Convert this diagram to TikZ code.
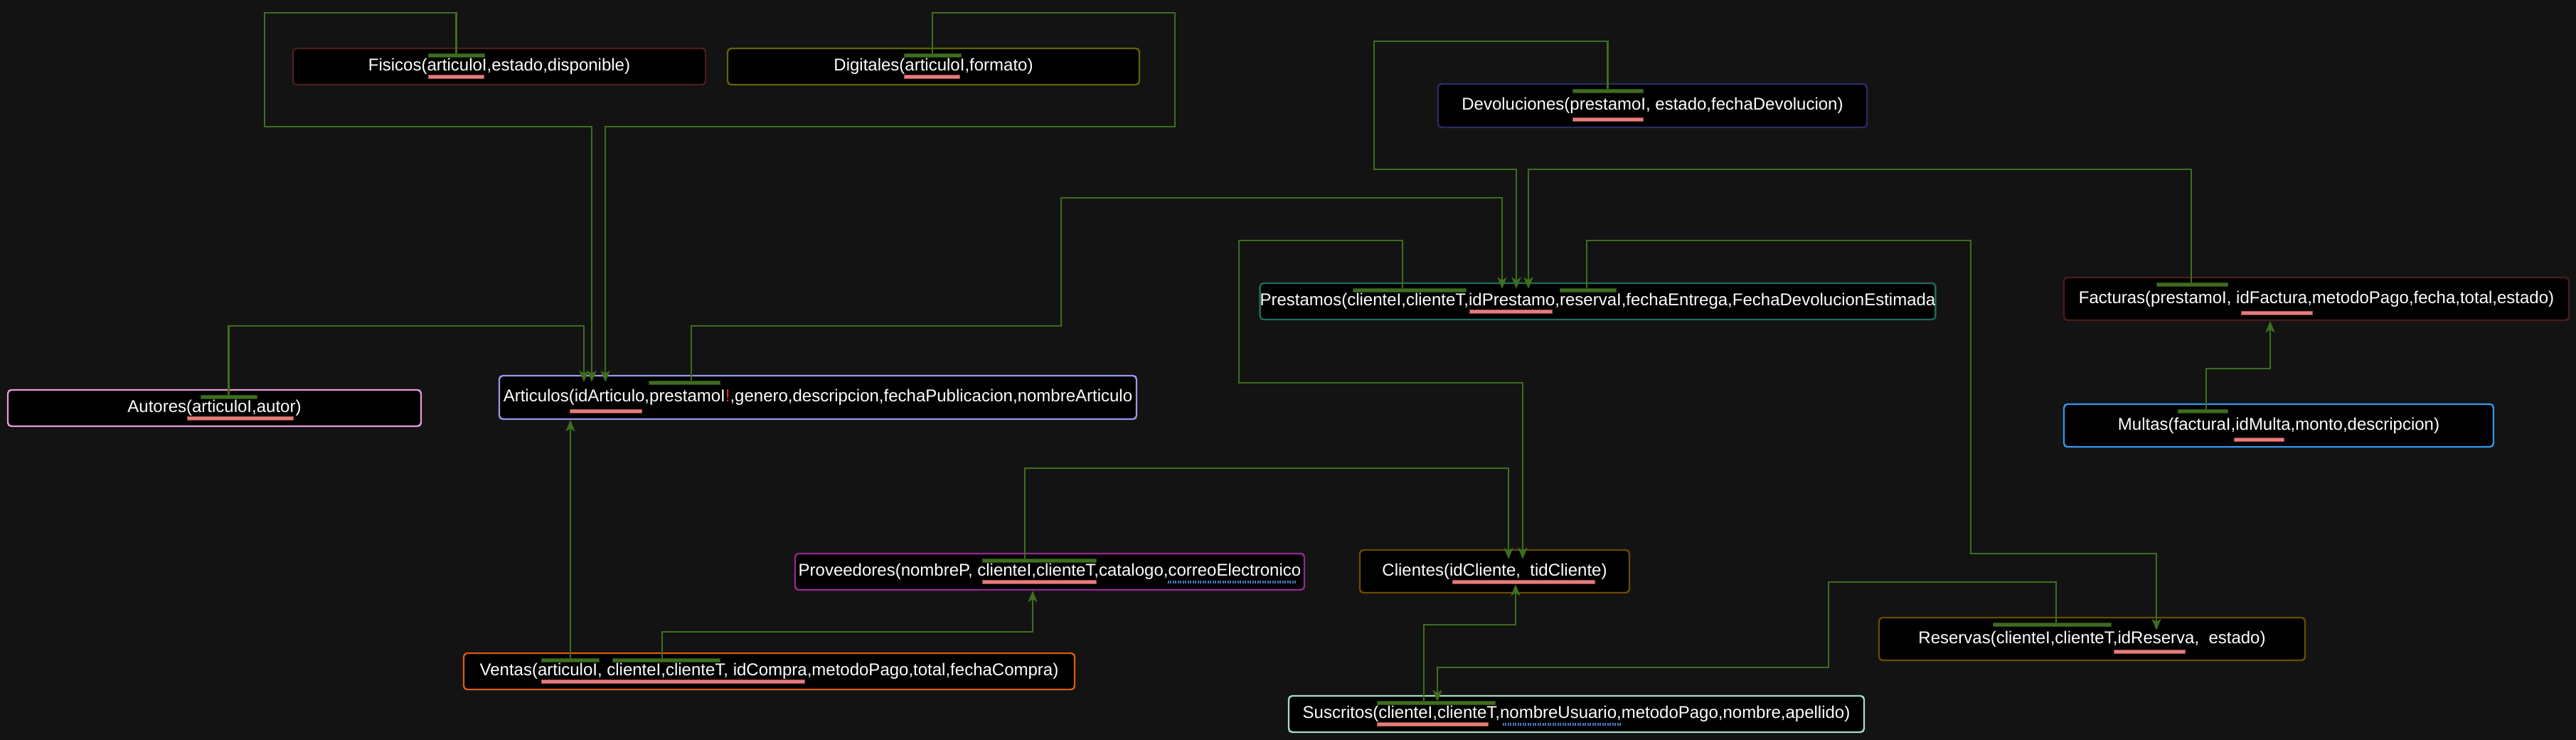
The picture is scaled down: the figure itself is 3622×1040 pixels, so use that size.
\documentclass[tikz,border=0pt]{standalone}
\usepackage{fontspec}
\setmainfont{Liberation Sans}
\usetikzlibrary{arrows.meta,calc}
\definecolor{bgc}{HTML}{131313}
\definecolor{fkc}{HTML}{3E6E1E}
\definecolor{fkbd}{HTML}{2A4A18}
\definecolor{pkc}{HTML}{E57E7E}
\definecolor{pkbd}{HTML}{A04848}
\definecolor{uqc}{HTML}{4A78C0}
\definecolor{errc}{HTML}{D83A2A}
\definecolor{cfis}{HTML}{4E1C1C}
\definecolor{cdig}{HTML}{646400}
\definecolor{cdev}{HTML}{2B2B66}
\definecolor{caut}{HTML}{E89AD8}
\definecolor{cart}{HTML}{9999EE}
\definecolor{cpre}{HTML}{1F6B5E}
\definecolor{cfac}{HTML}{4E1C1C}
\definecolor{cmul}{HTML}{3399EE}
\definecolor{cpro}{HTML}{962896}
\definecolor{ccli}{HTML}{6B4A00}
\definecolor{cven}{HTML}{DC5A0A}
\definecolor{csus}{HTML}{A8DCC8}
\definecolor{cres}{HTML}{6B4A00}
\begin{document}
\begin{tikzpicture}[x=1pt,y=-1pt,
  box/.style={draw=#1, fill=black, rounded corners=5pt, line width=2.4pt, inner sep=0pt, text=white, font=\fontsize{24}{28}\selectfont},
  fk/.style={draw=fkc, line width=2.6pt, -{Stealth[length=16pt,width=13pt,inset=4pt]}},
  fkbar/.style={draw=fkbd, fill=fkc, minimum height=5pt, inner sep=0pt, line width=0.8pt},
  pkline/.style={draw=pkbd, fill=pkc, minimum height=4.5pt, inner sep=0pt, line width=0.8pt},
  uqmark/.style={minimum height=4pt, inner sep=0pt},
  uqline/.style={draw=uqc, line width=4pt, dash pattern=on 2pt off 1.5pt},
]
\useasboundingbox (0,0) rectangle (3622,1040);
\fill[bgc] (0,0) rectangle (3622,1040);

% tables
\node[box=cfis, minimum width=580pt, minimum height=51pt] (fisicos) at (702,93.5) {Fisicos(articuloI,estado,disponible)};
\node[box=cdig, minimum width=579pt, minimum height=51pt] (digitales) at (1312.5,93.5) {Digitales(articuloI,formato)};
\node[box=cdev, minimum width=603pt, minimum height=61pt] (devoluciones) at (2323.5,148.5) {Devoluciones(prestamoI, estado,fechaDevolucion)};
\node[box=caut, minimum width=581pt, minimum height=51pt] (autores) at (301.5,573.5) {Autores(articuloI,autor)};
\node[box=cart, minimum width=896pt, minimum height=61pt] (articulos) at (1150,558.5) {Articulos(idArticulo,prestamoI{\color{errc}!},genero,descripcion,fechaPublicacion,nombreArticulo};
\node[box=cpre, minimum width=949pt, minimum height=51pt] (prestamos) at (2246.5,423.5) {Prestamos(clienteI,clienteT,idPrestamo,reservaI,fechaEntrega,FechaDevolucionEstimada};
\node[box=cfac, minimum width=710pt, minimum height=60pt] (facturas) at (3257,420) {Facturas(prestamoI, idFactura,metodoPago,fecha,total,estado)};
\node[box=cmul, minimum width=604pt, minimum height=60pt] (multas) at (3204,598) {Multas(facturaI,idMulta,monto,descripcion)};
\node[box=cpro, minimum width=716pt, minimum height=51pt] (proveedores) at (1476,803.5) {Proveedores(nombreP, clienteI,clienteT,catalogo,correoElectronico};
\node[box=ccli, minimum width=379pt, minimum height=60pt] (clientes) at (2101.5,803) {Clientes(idCliente,~~tidCliente)};
\node[box=cven, minimum width=859pt, minimum height=51pt] (ventas) at (1081.5,943.5) {Ventas(articuloI, clienteI,clienteT, idCompra,metodoPago,total,fechaCompra)};
\node[box=csus, minimum width=809pt, minimum height=51pt] (suscritos) at (2216.5,1003.5) {Suscritos(clienteI,clienteT,nombreUsuario,metodoPago,nombre,apellido)};
\node[box=cres, minimum width=599pt, minimum height=60pt] (reservas) at (2941.5,898) {Reservas(clienteI,clienteT,idReserva,~~estado)};

% foreign-key bars
\node[fkbar, minimum width=79pt] (fisbar) at (641.5,78) {};
\node[fkbar, minimum width=80pt] (digbar) at (1311,78) {};
\node[fkbar, minimum width=99pt] (devbar) at (2260.5,128) {};
\node[fkbar, minimum width=79pt] (autbar) at (321.5,558) {};
\node[fkbar, minimum width=100pt] (artbar) at (962,538) {};
\node[fkbar, minimum width=159pt] (prebar1) at (1981.5,408) {};
\node[fkbar, minimum width=79pt] (prebar2) at (2232.5,408) {};
\node[fkbar, minimum width=100pt] (facbar) at (3082,400) {};
\node[fkbar, minimum width=70pt] (mulbar) at (3097,578) {};
\node[fkbar, minimum width=160pt] (provbar) at (1461,788) {};
\node[fkbar, minimum width=81pt] (venbar1) at (801.5,928) {};
\node[fkbar, minimum width=151pt] (venbar2) at (936.5,928) {};
\node[fkbar, minimum width=166pt] (susbar) at (2019,988) {};
\node[fkbar, minimum width=166pt] (resbar) at (2885,878) {};

% primary-key underlines
\node[pkline, minimum width=78pt] (fispk) at (641,108) {};
\node[pkline, minimum width=78pt] (digpk) at (1310,108) {};
\node[pkline, minimum width=99pt] (devpk) at (2260.5,168) {};
\node[pkline, minimum width=149pt] (autpk) at (337.5,588) {};
\node[pkline, minimum width=101pt] (artpk) at (851.5,578) {};
\node[pkline, minimum width=116pt] (prepk) at (2124,438) {};
\node[pkline, minimum width=100pt] (facpk) at (3201,440) {};
\node[pkline, minimum width=70pt] (mulpk) at (3176,618) {};
\node[pkline, minimum width=160pt] (provpk) at (1461,818) {};
\node[pkline, minimum width=200pt] (clipk) at (2142,818) {};
\node[pkline, minimum width=370pt] (venpk) at (946,958) {};
\node[pkline, minimum width=156pt] (suspk) at (2014,1018) {};
\node[pkline, minimum width=100pt] (respk) at (3022,916) {};

% unique (dotted) underlines
\node[uqmark, minimum width=180pt] (provuq) at (1732,818) {};
\node[uqmark, minimum width=166pt] (susuq) at (2196,1018) {};
\draw[uqline] (provuq.west) -- (provuq.east);
\draw[uqline] (susuq.west) -- (susuq.east);

% connectors
\draw[fk] (fisbar.north) |- (372,18) |- (832,178) -- ($(articulos.north -| 832,0)+(0,10)$);
\draw[fk] (digbar.north) |- (1652,18) |- (851,178) -- ($(articulos.north -| 851,0)+(0,10)$);
\draw[fk] (autbar.north) |- (821,458) -- ($(articulos.north -| 821,0)+(0,10)$);
\draw[fk] (artbar.north -| 972,0) |- (1492,458) |- (2112,278) -- ($(prestamos.north -| 2112,0)+(0,9)$);
\draw[fk] (devbar.north) |- (1932,58) |- (2132,238) -- ($(prestamos.north -| 2132,0)+(0,9)$);
\draw[fk] (facbar.north -| 3081,0) |- (2149,238) -- ($(prestamos.north -| 2149,0)+(0,9)$);
\draw[fk] (prebar1.north -| 1972,0) |- (1742,338) |- (2141,538) -- ($(clientes.north -| 2141,0)+(0,14)$);
\draw[fk] (prebar2.north -| 2231,0) |- (2771,338) |- (3032,778) -- ($(reservas.north -| 3032,0)+(0,19)$);
\draw[fk] (mulbar.north -| 3102,0) |- (3192,518) -- (facturas.south -| 3192,0);
\draw[fk] (provbar.north -| 1441,0) |- (2121,658) -- ($(clientes.north -| 2121,0)+(0,14)$);
\draw[fk] (venbar1.north -| 802,0) -- (articulos.south -| 802,0);
\draw[fk] (venbar2.north -| 931,0) |- (1452,888) -- (proveedores.south -| 1452,0);
\draw[fk] (susbar.north -| 2002,0) |- (2131,878) -- ($(clientes.south -| 2131,0)+(0,-13)$);
\draw[fk] (resbar.north -| 2891,0) |- (2571,818) |- (2021,938) -- ($(suscritos.north -| 2021,0)+(0,9)$);
\end{tikzpicture}
\end{document}
